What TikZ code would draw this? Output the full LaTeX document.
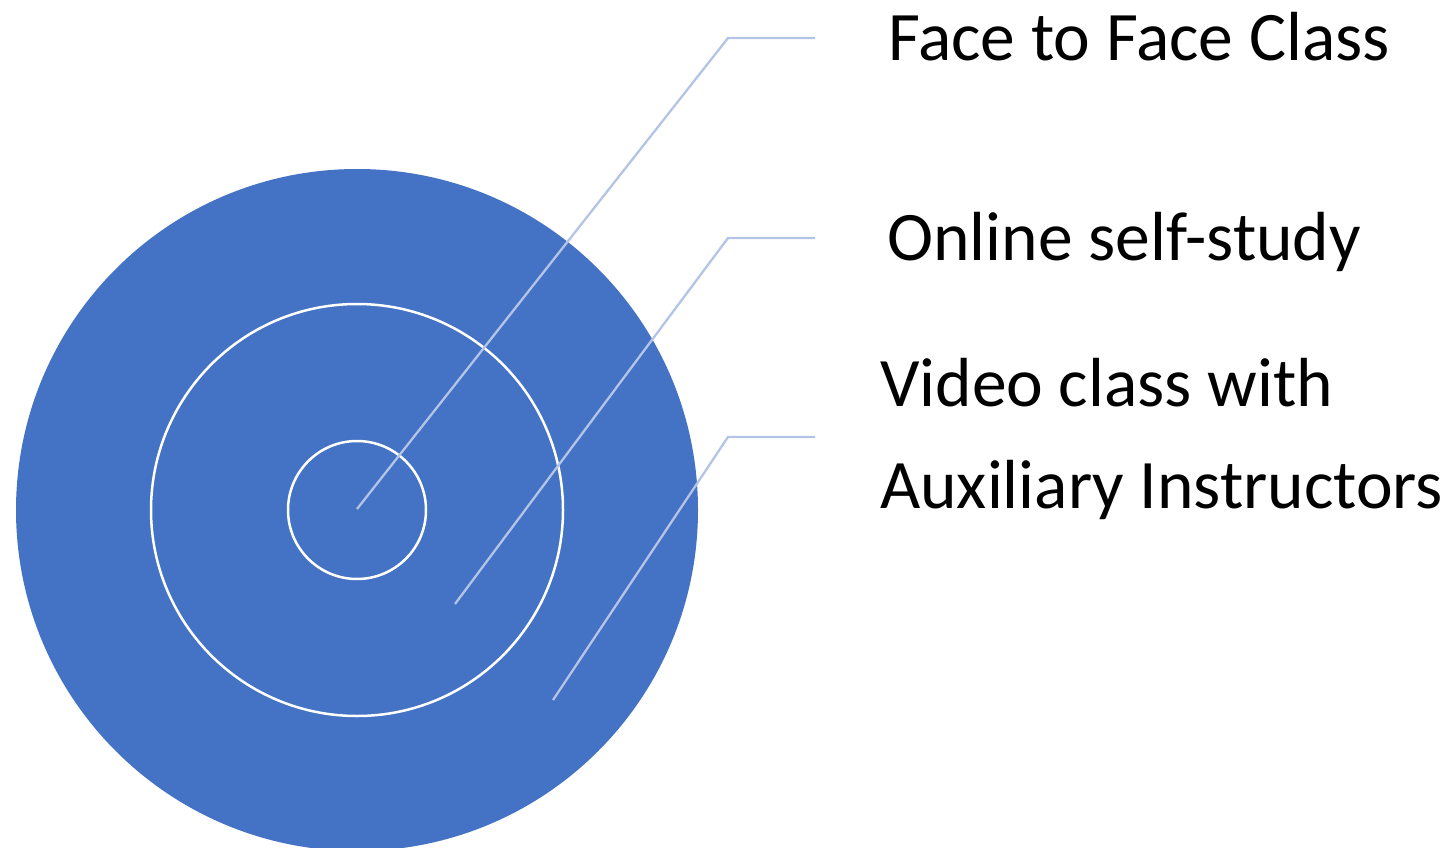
\documentclass[tikz,border=0pt]{standalone}
\usepackage{fontspec}
\setmainfont{Carlito}
\definecolor{ringblue}{HTML}{4472C4}
\definecolor{leader}{HTML}{B4C4E6}
\begin{document}
\begin{tikzpicture}[x=1pt,y=-1pt,
  ring/.style={circle,draw=white,line width=2.5pt,fill=ringblue,inner sep=0pt},
  leaderline/.style={draw=leader,line width=2.3pt},
  label/.style={anchor=base west,inner sep=0pt,font=\fontsize{69.5}{84}\selectfont}]
\useasboundingbox (0,0) rectangle (1451,848);
\begin{scope}
\clip (0,0) rectangle (1451,848);
\node[circle,fill=ringblue,minimum size=682pt,inner sep=0pt] (outer) at (357,510) {};
\node[ring,minimum size=412pt] (middle) at (357,510) {};
\node[ring,minimum size=138pt] (inner) at (357,510) {};
\end{scope}
% leader lines
\coordinate (p1) at (357,509);
\coordinate (k1) at (728,38);
\coordinate (e1) at (815,38);
\coordinate (p2) at (455,604);
\coordinate (k2) at (728,238);
\coordinate (e2) at (815,238);
\coordinate (p3) at (553,700);
\coordinate (k3) at (728,437);
\coordinate (e3) at (815,437);
\draw[leaderline] (p1) -- (k1) -- (e1);
\draw[leaderline] (p2) -- (k2) -- (e2);
\draw[leaderline] (p3) -- (k3) -- (e3);
% labels
\node[label] (t1) at (888,61) {Face to Face Class};
\node[label] (t2) at (887,260) {Online self-study};
\node[label] (t3a) at (880,406) {Video class with};
\node[label] (t3b) at (880,508) {Auxiliary Instructors};
\end{tikzpicture}
\end{document}
